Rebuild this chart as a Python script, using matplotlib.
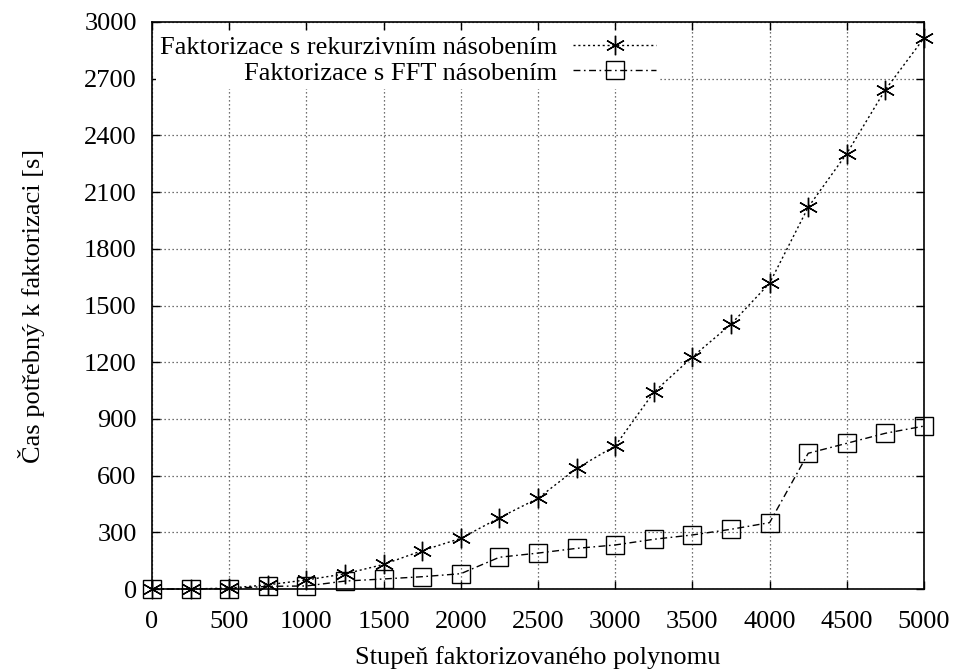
import matplotlib
matplotlib.use("Agg")
import matplotlib.pyplot as plt

plt.rcParams['font.family'] = ['Liberation Serif', 'DejaVu Serif']

degrees = [0, 250, 500, 750, 1000, 1250, 1500, 1750, 2000, 2250, 2500,
           2750, 3000, 3250, 3500, 3750, 4000, 4250, 4500, 4750, 5000]
recursive = [0, 0, 5, 22, 48, 80, 130, 203, 268, 377, 480,
             638, 757, 1041, 1228, 1401, 1618, 2020, 2304, 2642, 2915]
fft = [0, 0, 2, 14, 16, 42, 53, 65, 81, 168, 190,
       215, 233, 263, 286, 316, 351, 718, 771, 824, 862]

label_rec = "Faktorizace s rekurzivním násobením"
label_fft = "Faktorizace s FFT násobením"
xlabel = "Stupeň faktorizovaného polynomu"
ylabel = "Čas potřebný k faktorizaci [s]"
xticks = list(range(0, 5001, 500))
yticks = list(range(0, 3001, 300))

FS = 19

fig = plt.figure(figsize=(9.56, 6.70), dpi=100)
ax = fig.add_axes([152/956, 1-589/670, (924-152)/956, (589-22)/670])

ax.plot(degrees, recursive, color='black', lw=1.0, linestyle=(0, (1.5, 2.0)),
        marker=(6, 2, 0), markersize=14, markeredgewidth=1.0,
        clip_on=False, label=label_rec, zorder=3)
ax.plot(degrees, fft, color='black', lw=1.0, linestyle=(0, (5, 2.5, 1.2, 2.5)),
        marker='s', markersize=12.5, markerfacecolor='none', markeredgewidth=1.0,
        clip_on=False, label=label_fft, zorder=3)

ax.set_xlim(0, 5000)
ax.set_ylim(0, 3000)
ax.set_xticks(xticks)
ax.set_yticks(yticks)
ax.tick_params(direction='in', length=6, width=1, top=True, right=True,
               labelsize=FS)
ax.tick_params(axis='x', pad=16)
ax.tick_params(axis='y', pad=11)
ax.grid(True, color='#444444', linestyle=(0, (1, 2.2)), linewidth=0.9)
for s in ax.spines.values():
    s.set_linewidth(1.2)

ax.set_xlabel(xlabel, fontsize=FS, labelpad=9)
ax.set_ylabel(ylabel, fontsize=FS, labelpad=28)

leg = ax.legend(loc='upper left', bbox_to_anchor=(0, 0.99),
                markerfirst=False, fontsize=FS,
                handlelength=3.15, handletextpad=0.6, labelspacing=0.08,
                borderpad=0.15, borderaxespad=0.15, frameon=True,
                fancybox=False, framealpha=1.0, edgecolor='none',
                facecolor='white')

fig.savefig("out.png", dpi=100)
